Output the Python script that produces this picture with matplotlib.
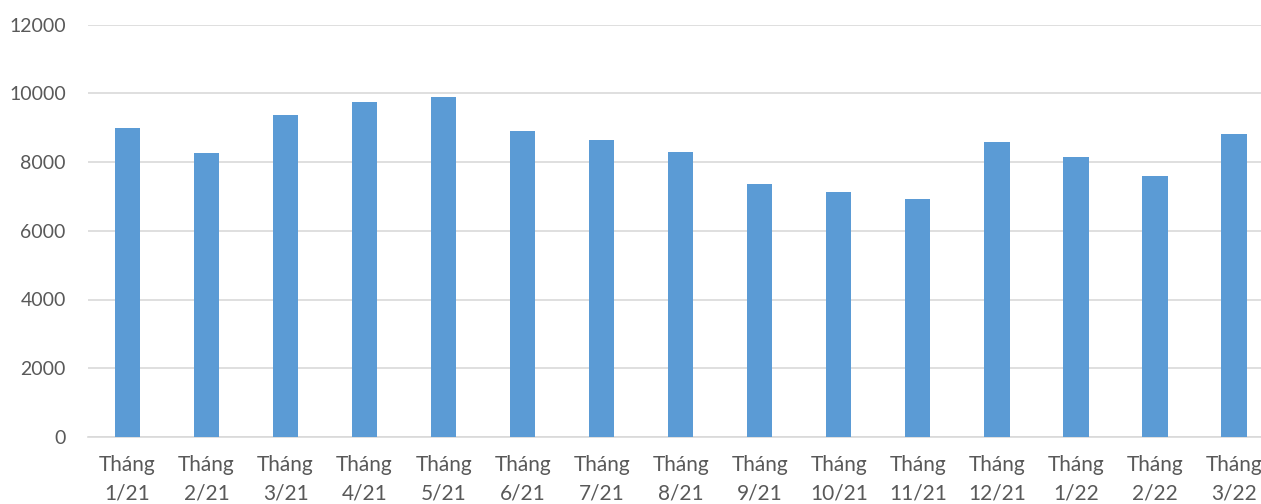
import matplotlib
matplotlib.use("Agg")
import matplotlib.pyplot as plt

# Monthly values
months = ["Tháng\n1/21", "Tháng\n2/21", "Tháng\n3/21", "Tháng\n4/21", "Tháng\n5/21",
          "Tháng\n6/21", "Tháng\n7/21", "Tháng\n8/21", "Tháng\n9/21", "Tháng\n10/21",
          "Tháng\n11/21", "Tháng\n12/21", "Tháng\n1/22", "Tháng\n2/22", "Tháng\n3/22"]
values = [8980, 8270, 9380, 9745, 9900, 8910, 8640, 8280, 7350, 7140,
          6915, 8590, 8155, 7600, 8805]
yticks = [0, 2000, 4000, 6000, 8000, 10000, 12000]

plt.rcParams['font.family'] = ['Lato', 'DejaVu Sans']

fig = plt.figure(figsize=(12.61, 5.04), dpi=100)
# the plot area runs slightly past the right edge, as in the reference
ax = fig.add_axes([88 / 1261, 67 / 504, 1185.5 / 1261, 412.5 / 504])

x = range(len(values))
ax.bar(x, values, width=0.32, color="#5B9BD5", zorder=3)

ax.set_xlim(-0.5, len(values) - 0.5)
ax.set_ylim(0, 12000)
ax.set_yticks(yticks)
ax.set_xticks(list(x))
ax.set_xticklabels(months, linespacing=1.5)

ax.grid(axis="y", color="#D9D9D9", linewidth=1.2, zorder=0)
for side in ["top", "right", "left"]:
    ax.spines[side].set_visible(False)
ax.spines["bottom"].set_color("#D9D9D9")
ax.spines["bottom"].set_linewidth(1.2)

ax.tick_params(axis="y", length=0, pad=16, labelsize=14, labelcolor="#595959")
ax.tick_params(axis="x", length=0, pad=13, labelsize=15, labelcolor="#595959")

fig.savefig("out.png", dpi=100)
